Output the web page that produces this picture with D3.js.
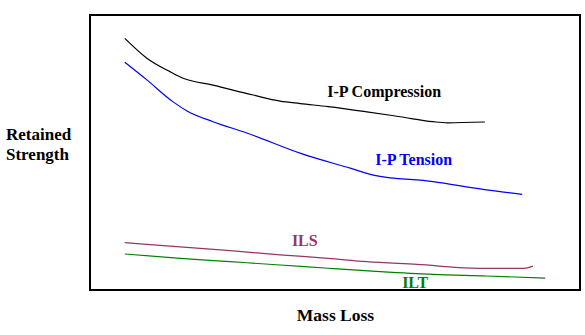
<!DOCTYPE html>
<html><head><meta charset="utf-8">
<script src="https://cdn.jsdelivr.net/npm/d3@7"></script>
<style>
html,body{margin:0;padding:0;background:#fff;}
svg{display:block;}
</style></head>
<body>
<script>
// Relative mass loss (x, 0-100) and retained strength (y, 0-100)
const compressionX = [7.1, 11.6, 16.3, 19.0, 25.1, 33.3, 38.8, 42.9, 48.6, 56.5, 63.3, 70.0, 72.9, 80.6];
const compressionY = [91.5, 84.3, 79.4, 77.0, 74.5, 70.9, 68.7, 67.8, 66.7, 64.8, 63.0, 61.2, 60.8, 61.1];
const tensionX = [7.1, 11.6, 16.9, 19.8, 25.1, 32.0, 43.3, 53.1, 57.8, 70.0, 80.2, 88.2];
const tensionY = [82.8, 76.4, 68.5, 65.1, 61.2, 57.1, 49.5, 44.3, 41.8, 39.4, 36.6, 34.8];
const ilsX = [7.1, 18.4, 28.6, 38.8, 48.6, 56.5, 66.7, 79.6, 88.4, 90.4];
const ilsY = [17.2, 15.7, 14.3, 12.8, 11.5, 10.3, 9.3, 7.9, 7.9, 8.7];
const iltX = [7.1, 18.4, 28.6, 38.8, 48.6, 59.2, 70.0, 81.0, 92.9];
const iltY = [13.1, 11.5, 10.3, 9.1, 7.9, 6.7, 5.7, 5.1, 4.3];

const seriesNames = ["I-P Compression", "I-P Tension", "ILS", "ILT"];
const labelX = [48.4, 58.2, 41.2, 63.7];
const labelY = [70.2, 45.5, 15.9, 0.8];
const xTitle = "Mass Loss";
const yTitleLines = ["Retained", "Strength"];

const W = 585, H = 335;
const plot = {left: 90, top: 15, right: 580, bottom: 290};
const colors = ["#000000", "#0000ff", "#993366", "#008000"];
const FONT = "Liberation Serif";

const svg = d3.select("body").append("svg").attr("width", W).attr("height", H);
const x = d3.scaleLinear().domain([0, 100]).range([plot.left, plot.right]);
const y = d3.scaleLinear().domain([0, 100]).range([plot.bottom, plot.top]);

svg.append("rect")
  .attr("x", plot.left).attr("y", plot.top)
  .attr("width", plot.right - plot.left).attr("height", plot.bottom - plot.top)
  .attr("fill", "none").attr("stroke", "#000").attr("stroke-width", 2);

const series = [
  d3.zip(compressionX, compressionY),
  d3.zip(tensionX, tensionY),
  d3.zip(ilsX, ilsY),
  d3.zip(iltX, iltY)
];
const line = d3.line().x(d => x(d[0])).y(d => y(d[1])).curve(d3.curveMonotoneX);

series.forEach((s, i) => {
  svg.append("path").datum(s).attr("d", line)
    .attr("fill", "none").attr("stroke", colors[i]).attr("stroke-width", 1.2);
  svg.append("text").attr("x", x(labelX[i])).attr("y", y(labelY[i]))
    .attr("font-family", FONT).attr("font-weight", "bold")
    .attr("fill", colors[i]).attr("font-size", 16).text(seriesNames[i]);
});

svg.append("text").attr("x", 335.5).attr("y", 321).attr("text-anchor", "middle")
  .attr("font-family", FONT).attr("font-weight", "bold")
  .attr("font-size", 17.5).attr("fill", "#000").text(xTitle);

yTitleLines.forEach((t, i) => {
  svg.append("text").attr("x", 6).attr("y", 140 + i * 19.5)
    .attr("font-family", FONT).attr("font-weight", "bold")
    .attr("font-size", 17).attr("fill", "#000").text(t);
});
</script>
</body></html>
